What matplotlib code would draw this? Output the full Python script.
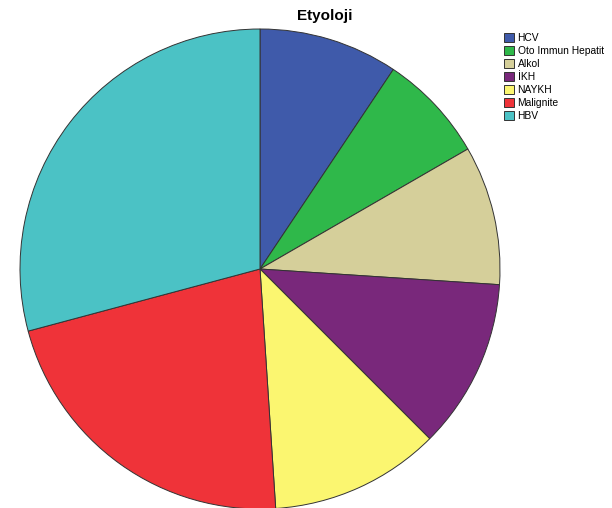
import matplotlib.pyplot as plt
from matplotlib.patches import Patch

labels = ["HCV", "Oto Immun Hepatit", "Alkol", "İKH", "NAYKH", "Malignite", "HBV"]
counts = [9, 7, 9, 11, 11, 21, 28]
colors = ["#3f5aaa", "#2fb84a", "#d5cf9a", "#79287b", "#fbf670", "#ef3339", "#4bc2c5"]

fig = plt.figure(figsize=(6.12, 5.08), dpi=100)
ax = fig.add_axes([20 / 612, -1 / 508, 480 / 612, 480 / 508])
ax.pie(counts, colors=colors, startangle=90, counterclock=False,
       wedgeprops=dict(edgecolor="#333333", linewidth=0.7))
ax.set_xlim(-1.0, 1.0)
ax.set_ylim(-1.0, 1.0)
ax.set_aspect("auto")
ax.axis("off")

fig.text(325 / 612, 1 - 16 / 508, "Etyoloji", ha="center", va="center",
         fontsize=11, fontweight="bold", family="Liberation Sans")

handles = [Patch(facecolor=c, edgecolor="#333333", linewidth=0.7) for c in colors]
fig.legend(handles, labels, loc="upper left", bbox_to_anchor=(497 / 612, 1 - 26 / 508),
           frameon=False, prop={"family": "Liberation Sans", "size": 7.4},
           handlelength=1.0, handleheight=1.0, handletextpad=0.3, labelspacing=0.28,
           borderpad=0.2)

fig.savefig("out.png", dpi=100)
